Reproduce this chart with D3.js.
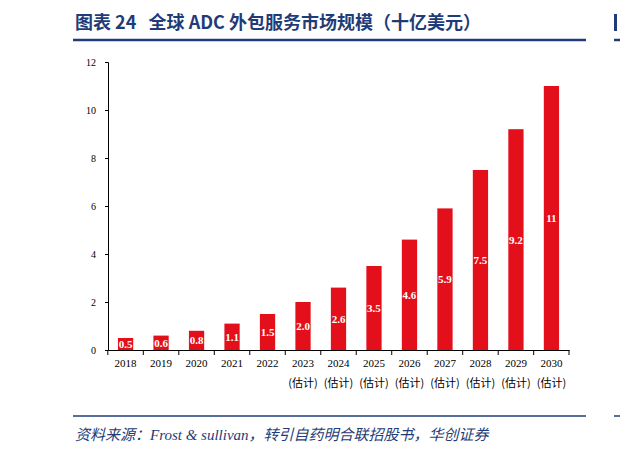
<!DOCTYPE html>
<html><head><meta charset="utf-8">
<script src="https://cdn.jsdelivr.net/npm/d3@7"></script>
<style>body{margin:0;background:#fff}</style>
</head><body>
<svg id="chart" width="620" height="452"></svg>
<script>
// chart data
var years = ["2018","2019","2020","2021","2022","2023","2024","2025","2026","2027","2028","2029","2030"];
var values = [0.5, 0.6, 0.8, 1.1, 1.5, 2.0, 2.6, 3.5, 4.6, 5.9, 7.5, 9.2, 11];
var labels = ["0.5","0.6","0.8","1.1","1.5","2.0","2.6","3.5","4.6","5.9","7.5","9.2","11"];
var yTicks = [0, 2, 4, 6, 8, 10, 12];

var svg = d3.select('#chart');
var serif = '"Liberation Serif","Times New Roman",serif';
var blue = '#1f3c78';

// title and rules
svg.append('text').attr('x', 75).attr('y', 29)
    .attr('font-family', '"Noto Sans CJK SC",' + serif).attr('font-weight', 'bold')
    .attr('font-size', 18).attr('fill', blue)
    .text('图表 24\u00a0\u00a0 全球 ADC 外包服务市场规模（十亿美元）');
svg.append('line').attr('x1', 73).attr('x2', 586).attr('y1', 40).attr('y2', 40)
    .attr('stroke', blue).attr('stroke-width', 2.5);
svg.append('line').attr('x1', 614).attr('x2', 620).attr('y1', 40).attr('y2', 40)
    .attr('stroke', blue).attr('stroke-width', 2.5);
svg.append('rect').attr('x', 614).attr('y', 14).attr('width', 3).attr('height', 17).attr('fill', blue);

var x = d3.scaleBand().domain(years).range([108, 569]).paddingInner(0.57).paddingOuter(0.28);
var y = d3.scaleLinear().domain([0, 12]).range([350, 62]);

// bars
svg.selectAll('rect.bar').data(values).enter().append('rect')
    .attr('class', 'bar')
    .attr('x', function(d, i) { return x(years[i]); })
    .attr('y', function(d) { return y(d); })
    .attr('width', x.bandwidth())
    .attr('height', function(d) { return y(0) - y(d); })
    .attr('fill', '#e3101b');

svg.selectAll('text.val').data(values).enter().append('text')
    .attr('class', 'val')
    .attr('x', function(d, i) { return x(years[i]) + x.bandwidth() / 2; })
    .attr('y', function(d) { return (y(d) + y(0)) / 2 + 4; })
    .attr('text-anchor', 'middle').attr('font-family', serif).attr('font-weight', 'bold')
    .attr('font-size', 11).attr('fill', '#fff')
    .text(function(d, i) { return labels[i]; });

// y axis
var yAxis = svg.append('g').attr('transform', 'translate(108,0)')
    .call(d3.axisLeft(y).tickValues(yTicks).tickSize(3).tickPadding(9));
// x axis
var step = x.step();
var xAxis = svg.append('g').attr('transform', 'translate(0,350)')
    .call(d3.axisBottom(x).tickSize(0).tickPadding(9));
xAxis.selectAll('.tick').append('line')
    .attr('x1', -step / 2).attr('x2', -step / 2).attr('y1', 0).attr('y2', 5).attr('stroke', '#000');
xAxis.append('line').attr('x1', 569).attr('x2', 569).attr('y1', 0).attr('y2', 5).attr('stroke', '#000');
xAxis.selectAll('.tick').filter(function(d) { return +d >= 2023; }).append('text')
    .attr('y', 37).attr('fill', '#000').text('(估计)')
    .attr('font-family', '"Noto Sans CJK SC",sans-serif').attr('font-size', 11);
svg.selectAll('.domain').attr('stroke', '#000');
svg.selectAll('.tick text').filter(function() { return d3.select(this).text() !== '(估计)'; })
    .attr('font-family', serif).attr('font-size', 11).attr('fill', '#000');
yAxis.selectAll('.tick text').attr('font-size', 10);

// source
svg.append('line').attr('x1', 73).attr('x2', 586).attr('y1', 416).attr('y2', 416)
    .attr('stroke', blue).attr('stroke-width', 1.5);
svg.append('line').attr('x1', 614).attr('x2', 620).attr('y1', 416).attr('y2', 416)
    .attr('stroke', blue).attr('stroke-width', 1.5);
svg.append('text').attr('x', 75).attr('y', 440)
    .attr('font-family', serif + ',"Noto Sans CJK SC"').attr('font-style', 'italic')
    .attr('font-size', 15).attr('fill', blue)
    .text('资料来源：Frost & sullivan，转引自药明合联招股书，华创证券');
</script>
</body></html>
